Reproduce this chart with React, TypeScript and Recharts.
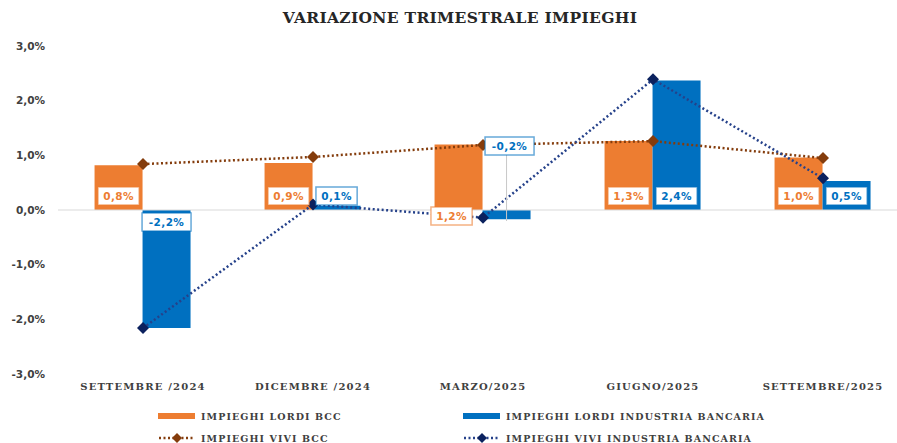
import React from 'react';
import { ComposedChart, Bar, Line, XAxis, YAxis, ReferenceLine, LabelList } from 'recharts';

// quarters on the x axis
const categories = ['SETTEMBRE /2024', 'DICEMBRE /2024', 'MARZO/2025', 'GIUGNO/2025', 'SETTEMBRE/2025'];
// quarterly change, %
const lordiBcc = [0.82, 0.86, 1.2, 1.26, 0.96];
const lordiIndustria = [-2.16, 0.08, -0.17, 2.37, 0.53];
const viviBcc = [0.84, 0.97, 1.19, 1.26, 0.95];
const viviIndustria = [-2.16, 0.1, -0.14, 2.39, 0.58];
const yTicks = [-3, -2, -1, 0, 1, 2, 3];

const ORANGE = '#ED7D31';
const BLUE = '#0070C0';
const BROWN = '#843C0C';
const NAVY = '#0B215E';
const NAVY_LINE = '#25418A';

const SERIF = '"DejaVu Serif", serif';
const SANS = '"DejaVu Sans", sans-serif';

// labels that were dragged by hand in the original (Marzo)
const labelOverrides: Record<string, Record<number, { dx: number; dy: number; leader?: boolean }>> = {
  bcc: { 2: { dx: -7, dy: 20 } },
  ind: { 2: { dx: 3, dy: -76, leader: true } },
};

const fmt = (v: number) => v.toFixed(1).replace('.', ',') + '%';

const data = categories.map((name, i) => ({
  name,
  lordiBcc: lordiBcc[i],
  lordiIndustria: lordiIndustria[i],
  viviBcc: viviBcc[i],
  viviIndustria: viviIndustria[i],
}));

const makeLabel = (color: string, series: string) => (props: any) => {
  const { x, y, width, height, value, index } = props;
  const top = Math.min(y, y + height);
  const bottom = Math.max(y, y + height);
  const zeroY = value >= 0 ? bottom : top;
  let cx = x + width / 2;
  let cy = value >= 0 ? zeroY - 14 : zeroY + 12;
  const ov = labelOverrides[series]?.[index];
  const text = fmt(value);
  const w = 10 + text.length * 7.8;
  const h = 18;
  let leader = null;
  if (ov) {
    const baseX = cx;
    cx += ov.dx;
    cy += ov.dy;
    if (ov.leader) {
      leader = <line x1={baseX} x2={baseX} y1={cy + h / 2} y2={zeroY + 11} stroke="#c8c8c8" strokeWidth={1} />;
    }
  }
  return (
    <g key={`${series}-${index}`}>
      {leader}
      <rect x={cx - w / 2} y={cy - h / 2} width={w} height={h} fill="#fff" stroke={color} strokeOpacity={0.6} strokeWidth={1.5} />
      <text x={cx} y={cy} dy="0.36em" textAnchor="middle" fill={color} fontFamily={SANS} fontWeight="bold" fontSize={10.5} letterSpacing={0.4}>
        {text}
      </text>
    </g>
  );
};

const diamond = (color: string) => (props: any) => {
  const { cx, cy, index } = props;
  return <path key={index} d={`M${cx},${cy - 6}L${cx + 6},${cy}L${cx},${cy + 6}L${cx - 6},${cy}Z`} fill={color} />;
};

const legendItems = [
  { label: 'IMPIEGHI LORDI BCC', color: ORANGE, kind: 'bar', left: 158, top: 409 },
  { label: 'IMPIEGHI LORDI INDUSTRIA BANCARIA', color: BLUE, kind: 'bar', left: 463, top: 409 },
  { label: 'IMPIEGHI VIVI BCC', color: BROWN, line: BROWN, kind: 'line', left: 158, top: 431 },
  { label: 'IMPIEGHI VIVI INDUSTRIA BANCARIA', color: NAVY, line: NAVY_LINE, kind: 'line', left: 463, top: 431 },
];

function LegendIcon({ item }: { item: any }) {
  return (
    <svg width={38} height={14} style={{ display: 'block' }}>
      {item.kind === 'bar' ? (
        <rect x={0} y={4} width={37} height={6} fill={item.color} />
      ) : (
        <>
          <line x1={1} x2={37} y1={7} y2={7} stroke={item.line} strokeWidth={2.5} strokeDasharray="2 2.5" />
          <path d="M19,2L24,7L19,12L14,7Z" fill={item.color} />
        </>
      )}
    </svg>
  );
}

export default function App() {
  return (
    <div style={{ position: 'absolute', left: 0, top: 0, width: 897, height: 443, overflow: 'hidden', background: '#fff' }}>
      <div
        style={{
          position: 'absolute', left: 0, top: 8, width: 920, textAlign: 'center',
          fontFamily: SERIF, fontWeight: 'bold', fontSize: 15.5, color: '#262626', letterSpacing: 0.3,
        }}
      >
        VARIAZIONE TRIMESTRALE IMPIEGHI
      </div>
      <ComposedChart
        width={908}
        height={443}
        data={data}
        margin={{ top: 46, right: 0, bottom: 39, left: 0 }}
        barCategoryGap="21.5%"
        barGap={0}
      >
        <XAxis
          dataKey="name"
          height={30}
          axisLine={false}
          tickLine={false}
          tickMargin={3}
          interval={0}
          tick={{ fontFamily: SERIF, fontWeight: 'bold', fontSize: 10, fill: '#404040', letterSpacing: 1.2 }}
        />
        <YAxis
          width={58}
          domain={[-3, 3]}
          ticks={yTicks}
          axisLine={false}
          tickLine={false}
          tickMargin={7}
          tickFormatter={fmt}
          tick={{ fontFamily: SANS, fontWeight: 'bold', fontSize: 10.5, fill: '#404040' }}
        />
        <ReferenceLine y={0} stroke="#d9d9d9" strokeWidth={1} />
        <Bar dataKey="lordiBcc" fill={ORANGE} isAnimationActive={false}>
          <LabelList dataKey="lordiBcc" content={makeLabel(ORANGE, 'bcc')} />
        </Bar>
        <Bar dataKey="lordiIndustria" fill={BLUE} isAnimationActive={false}>
          <LabelList dataKey="lordiIndustria" content={makeLabel(BLUE, 'ind')} />
        </Bar>
        <Line
          dataKey="viviBcc"
          stroke={BROWN}
          strokeWidth={2.5}
          strokeDasharray="2 2.5"
          dot={diamond(BROWN)}
          activeDot={false}
          isAnimationActive={false}
        />
        <Line
          dataKey="viviIndustria"
          stroke={NAVY_LINE}
          strokeWidth={2.5}
          strokeDasharray="2 2.5"
          dot={diamond(NAVY)}
          activeDot={false}
          isAnimationActive={false}
        />
      </ComposedChart>
      {legendItems.map((item) => (
        <div
          key={item.label}
          style={{ position: 'absolute', left: item.left, top: item.top, display: 'flex', alignItems: 'center', gap: 5 }}
        >
          <LegendIcon item={item} />
          <span style={{ fontFamily: SERIF, fontWeight: 'bold', fontSize: 9.5, color: '#404040', letterSpacing: 1.1, whiteSpace: 'nowrap' }}>
            {item.label}
          </span>
        </div>
      ))}
    </div>
  );
}
